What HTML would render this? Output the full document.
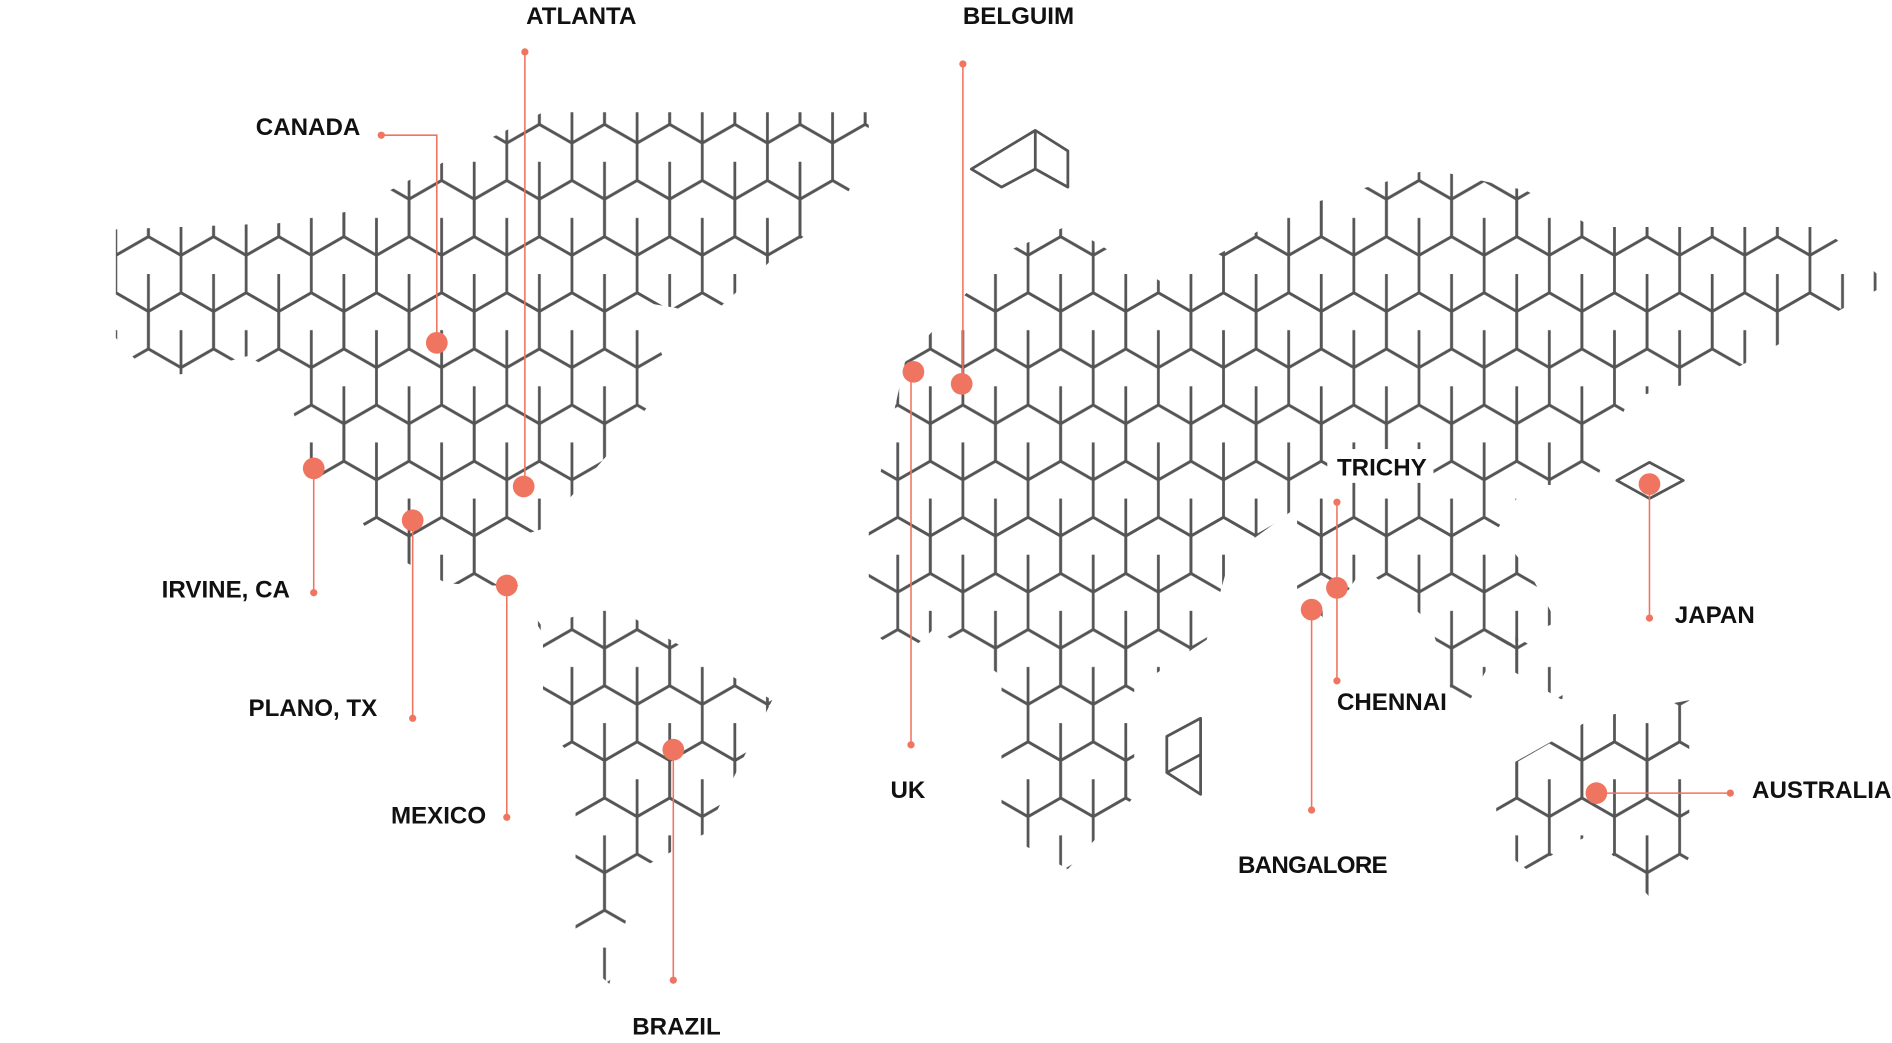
<!DOCTYPE html>
<html><head><meta charset="utf-8"><style>
html,body{margin:0;padding:0;background:#fff;}
svg{display:block;}
text{font-family:"Liberation Sans",sans-serif;font-weight:bold;font-size:20px;fill:#111;}
</style></head><body>
<svg width="1892" height="1043" viewBox="0 0 1568 864" preserveAspectRatio="none" xmlns="http://www.w3.org/2000/svg">
<defs>
<g id="hex" fill="none" stroke="#555" stroke-width="2.3" stroke-linejoin="round">
<path d="M27,0 L54,15.5 L54,46.5 L27,62 L0,46.5 L0,15.5 Z M27,31 L27,62"/>
</g>
<pattern id="cubes" patternUnits="userSpaceOnUse" x="42" y="10" width="54" height="93">
<use href="#hex" x="0" y="0"/>
<use href="#hex" x="0" y="-93"/>
<use href="#hex" x="0" y="93"/>
<use href="#hex" x="-27" y="46.5"/>
<use href="#hex" x="27" y="46.5"/>
<use href="#hex" x="-27" y="-46.5"/>
<use href="#hex" x="27" y="-46.5"/>
</pattern>
</defs>
<g fill="url(#cubes)">
<polygon points="96,190 230,185 290,175 395,120 450,93 720,93 720,125 695,175 640,215 585,265 560,255 530,250 557,313 505,375 450,438 395,455 395,470 430,485 395,485 370,483 315,455 285,410 260,390 232,310 205,295 150,310 123,310 96,280"/>
<polygon points="420,478 450,520 505,500 640,580 585,690 530,720 505,815 477,790 477,630 450,600 450,525"/>
<polygon points="720,435 750,300 830,210 885,187 965,235 1020,205 1075,172 1185,140 1265,158 1320,188 1510,188 1565,235 1510,265 1430,310 1350,330 1320,405 1265,400 1240,440 1265,470 1290,515 1240,540 1210,595 1185,515 1130,470 1100,515 1075,490 1075,420 1020,460 1000,530 940,570 940,660 885,720 830,690 830,560 775,520 748,545 720,520"/>
<polygon points="1240,640 1320,595 1400,580 1400,710 1375,752 1320,690 1265,720 1240,700"/>
<polygon points="1240,518 1295,550 1295,580 1240,548"/>
</g>
<g fill="none" stroke="#555" stroke-width="2.3" stroke-linejoin="round">
<path d="M805,140 L858,108 L885,125 L885,155 L858,140 L830,155 Z M858,108 L858,140"/>
<path d="M1340,398 L1367,383 L1395,398 L1367,413 Z"/>
<path d="M967,610 L995,595 L995,658 L967,640 Z M967,640 L995,625"/>
</g>
<g stroke="#f07560" stroke-width="1.3" fill="none">
<path d="M316,112 H362 V284"/>
<path d="M435,43 V403"/>
<path d="M260,388 V491"/>
<path d="M342,431 V595"/>
<path d="M420,485 V677"/>
<path d="M558,621 V812"/>
<path d="M755,308 V617"/>
<path d="M798,53 V318"/>
<path d="M1108,416 V564"/>
<path d="M1087,505 V671"/>
<path d="M1367,401 V512"/>
<path d="M1323,657 H1434"/>
</g>
<g fill="#f07560">
<circle cx="362" cy="284" r="9"/><circle cx="434" cy="403" r="9"/><circle cx="260" cy="388" r="9"/>
<circle cx="342" cy="431" r="9"/><circle cx="420" cy="485" r="9"/><circle cx="558" cy="621" r="9"/>
<circle cx="757" cy="308" r="9"/><circle cx="797" cy="318" r="9"/><circle cx="1087" cy="505" r="9"/>
<circle cx="1108" cy="487" r="9"/><circle cx="1367" cy="401" r="9"/><circle cx="1323" cy="657" r="9"/>
<circle cx="316" cy="112" r="3"/><circle cx="435" cy="43" r="3"/><circle cx="260" cy="491" r="3"/>
<circle cx="342" cy="595" r="3"/><circle cx="420" cy="677" r="3"/><circle cx="558" cy="812" r="3"/>
<circle cx="755" cy="617" r="3"/><circle cx="798" cy="53" r="3"/><circle cx="1108" cy="416" r="3"/>
<circle cx="1108" cy="564" r="3"/><circle cx="1087" cy="671" r="3"/><circle cx="1367" cy="512" r="3"/>
<circle cx="1434" cy="657" r="3"/>
</g>
<rect x="1100" y="372" width="88" height="28" fill="#fff"/>
<text x="436" y="20">ATLANTA</text>
<text x="212" y="112">CANADA</text>
<text x="798" y="20">BELGUIM</text>
<text x="134" y="495">IRVINE, CA</text>
<text x="206" y="593">PLANO, TX</text>
<text x="324" y="682">MEXICO</text>
<text x="524" y="857">BRAZIL</text>
<text x="738" y="661">UK</text>
<text x="1108" y="394">TRICHY</text>
<text x="1108" y="588">CHENNAI</text>
<text x="1388" y="516">JAPAN</text>
<text x="1452" y="661">AUSTRALIA</text>
<text x="1026" y="723" textLength="124">BANGALORE</text>
</svg>
</body></html>
